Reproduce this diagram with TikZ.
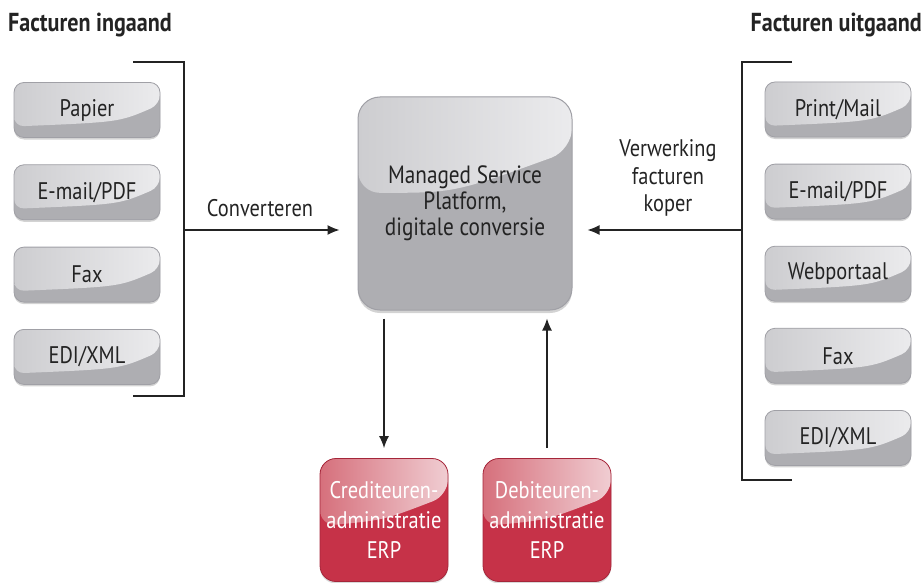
\documentclass[tikz,border=0pt]{standalone}
\usepackage{fontspec}
\setmainfont{PT Sans}[FakeStretch=0.85]
\usetikzlibrary{positioning, calc, arrows.meta, shadows}
\definecolor{mydark}{RGB}{35,35,35}
\definecolor{boxgray}{RGB}{174,174,178}
\definecolor{boxlight}{RGB}{205,205,208}
\definecolor{boxshine}{RGB}{235,235,237}
\definecolor{boxedge}{RGB}{160,160,166}
\definecolor{erpred}{RGB}{198,50,72}
\definecolor{erplight}{RGB}{214,112,124}
\definecolor{erpshine}{RGB}{240,205,210}
\definecolor{erpedge}{RGB}{165,38,58}
\tikzset{
  gloss/.style n args={5}{path picture={
    \coordinate (gnw) at (path picture bounding box.north west);
    \coordinate (gne) at (path picture bounding box.north east);
    \coordinate (gsw) at (path picture bounding box.south west);
    \coordinate (gse) at (path picture bounding box.south east);
    \shade[left color=#1, right color=#2] (gnw) -- (gne) -- ($(gne)!#3!(gse)$)
      .. controls ($(gnw)!#5!(gse)$) .. ($(gnw)!#4!(gsw)$) -- cycle;}},
  chanbox/.style={rectangle, rounded corners=10pt, fill=boxgray, draw=boxedge,
    line width=0.8pt, minimum width=146pt, minimum height=55pt, inner xsep=2pt,
    font=\fontsize{24}{27}\selectfont, text=mydark,
    drop shadow={shadow xshift=0pt, shadow yshift=-2pt, opacity=0.35},
    gloss={boxlight}{boxshine}{0.4}{0.8}{0.72}},
  mainbox/.style={rectangle, rounded corners=22pt, fill=boxgray, draw=boxedge,
    line width=1pt, minimum width=214pt, minimum height=213pt, inner xsep=2pt,
    align=center, font=\fontsize{25}{26}\selectfont, text=mydark,
    drop shadow={shadow xshift=0pt, shadow yshift=-3pt, opacity=0.35},
    gloss={boxlight}{boxshine}{0.25}{0.45}{0.45}},
  erpbox/.style={rectangle, rounded corners=16pt, fill=erpred, draw=erpedge,
    line width=0.8pt, minimum width=128pt, minimum height=123pt, inner xsep=0pt,
    align=center, font=\fontsize{24}{30}\selectfont, text=white,
    drop shadow={shadow xshift=0pt, shadow yshift=-2pt, opacity=0.3},
    gloss={erplight}{erpshine}{0.3}{0.55}{0.5}},
  title/.style={font=\fontsize{26}{28}\selectfont\bfseries, text=mydark, inner sep=0pt},
  lbl/.style={font=\fontsize{24}{27.5}\selectfont, text=mydark, align=center},
  arrow/.style={-{Latex[length=12pt,width=10pt]}, line width=1.3pt, color=mydark},
  bracket/.style={line width=1.2pt, color=mydark}
}
\begin{document}
\begin{tikzpicture}[x=1pt, y=-1pt]
  \useasboundingbox (0,0) rectangle (923,583);
  % headings
  \node[title, anchor=west] (tin) at (8,25) {Facturen ingaand};
  \node[title, anchor=east] (tuit) at (922,25) {Facturen uitgaand};
  % incoming channels
  \node[chanbox] (papier) at (87,110) {Papier};
  \node[chanbox, below=26.5pt of papier] (mailin) {E-mail/PDF};
  \node[chanbox, below=26.5pt of mailin] (faxin) {Fax};
  \node[chanbox, below=26.5pt of faxin] (ediin) {EDI/XML};
  % outgoing channels
  \node[chanbox] (print) at (838,109.5) {Print/Mail};
  \node[chanbox, below=26.3pt of print] (mailuit) {E-mail/PDF};
  \node[chanbox, below=26.3pt of mailuit] (portaal) {Webportaal};
  \node[chanbox, below=26.3pt of portaal] (faxuit) {Fax};
  \node[chanbox, below=26.3pt of faxuit] (ediuit) {EDI/XML};
  % platform
  \node[mainbox, text depth=6pt] (msp) at (465,203.5) {Managed Service\\Platform,\\digitale conversie};
  % ERP
  \node[erpbox] (cred) at (384,520) {Crediteuren-\\administratie\\ERP};
  \node[erpbox] (deb) at (547,520) {Debiteuren-\\administratie\\ERP};
  % brackets
  \draw[bracket] (133,62) -- (184,62) -- (184,396) -- (133,396);
  \draw[bracket] (792,62) -- (742,62) -- (742,480) -- (792,480);
  \coordinate (lin) at (184,230);
  \coordinate (rin) at (742,230);
  % arrows
  \draw[arrow, shorten >=18pt] (lin) -- (msp.west |- lin);
  \draw[arrow, shorten >=15pt] (rin) -- (msp.east |- rin);
  \draw[arrow, shorten <=8pt, shorten >=10pt] (msp.south -| cred) -- (cred.north);
  \draw[arrow, shorten <=10pt, shorten >=8pt] (deb.north) -- (msp.south -| deb);
  \node[lbl] (conv) at (260,208) {Converteren};
  \node[lbl] (verw) at (668,178) {Verwerking\\facturen\\koper};
\end{tikzpicture}
\end{document}
